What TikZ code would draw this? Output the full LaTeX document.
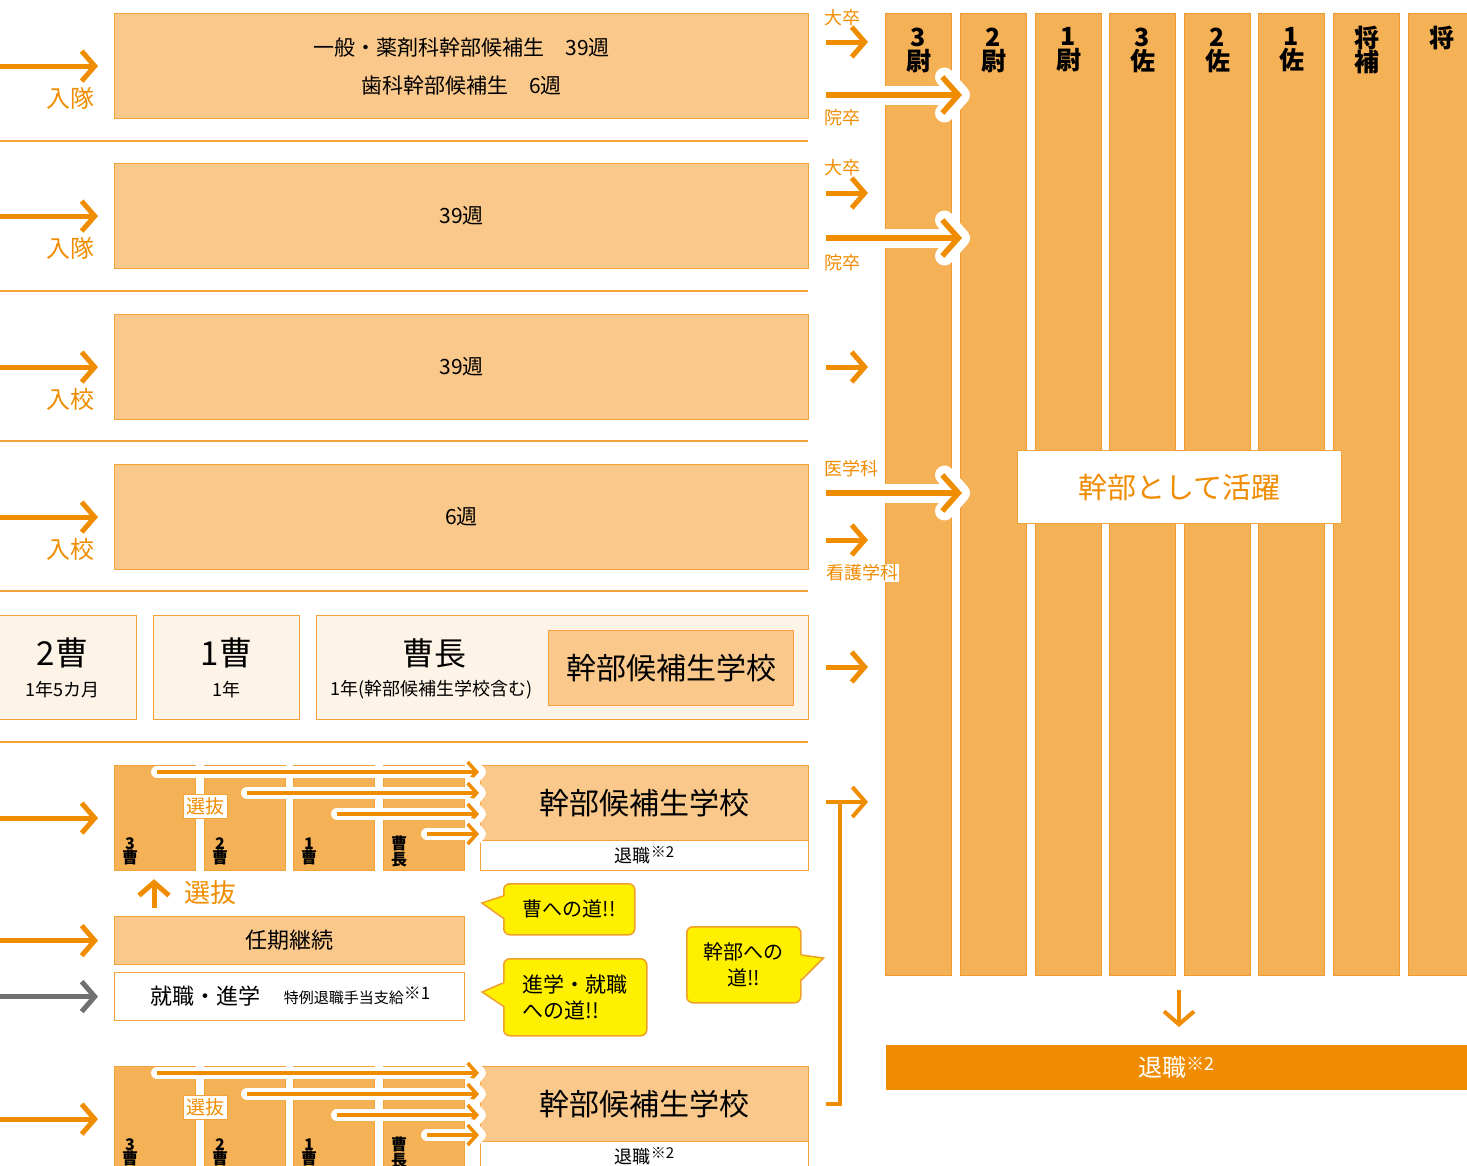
\documentclass[tikz,border=0pt]{standalone}
\usepackage{fontspec}
\setmainfont{Noto Sans CJK JP}
\usetikzlibrary{arrows.meta,calc,positioning}

\definecolor{ao}{RGB}{240,140,0}
\definecolor{bord}{RGB}{244,163,58}
\definecolor{cbord}{RGB}{240,155,50}
\definecolor{lbox}{RGB}{249,200,138}
\definecolor{mbox}{RGB}{245,177,86}
\definecolor{crm}{RGB}{253,243,230}
\definecolor{yel}{RGB}{255,240,0}
\definecolor{bbord}{RGB}{240,160,40}
\definecolor{gry}{RGB}{112,112,112}

\newcommand{\sz}[2]{\fontsize{#1pt}{#2pt}\selectfont}

\tikzset{
  box/.style={draw=bord, line width=1.2pt, anchor=north west, inner sep=0pt, align=center},
  pale/.style={box, fill=lbox},
  cream/.style={box, fill=crm},
  rankbox/.style={box, fill=mbox, minimum width=81pt, minimum height=105pt},
  ranklab/.style={align=center, font=\sz{16}{14}\bfseries},
  col/.style={box, fill=mbox, draw=cbord, line width=1pt, minimum width=66pt, minimum height=962pt},
  coltxt/.style={align=center, font=\sz{25}{24}\bfseries},
  lab/.style={text=ao, font=\sz{24}{26}},
  small/.style={text=ao, font=\sz{18}{20}},
  sep/.style={draw=bord, line width=2pt},
  arr/.style={draw=ao, line width=5pt, -{Straight Barb[length=13pt,width=30pt]}},
  bigarr/.style={draw=ao, line width=5.5pt, -{Straight Barb[length=16pt,width=36pt]}},
  halo/.style={draw=white, line width=19pt, line cap=round, -{Straight Barb[length=16pt,width=36pt,round]}},
  thin/.style={draw=ao, line width=3.5pt, -{Straight Barb[length=9pt,width=20pt]}},
  thinhalo/.style={draw=white, line width=12pt, line cap=round, -{Straight Barb[length=9pt,width=20pt,round]}},
  bubble/.style={draw=bbord, fill=yel, line width=1.5pt, rounded corners=6pt, anchor=north west, inner sep=0pt},
  tail/.style={draw=bbord, line width=1.5pt, line join=miter}
}

\begin{document}
\begin{tikzpicture}[x=1pt,y=-1pt]
  \useasboundingbox (0,0) rectangle (1467,1165);
  \clip (0,0) rectangle (1467,1165);
  \coordinate (O) at (0,0);

  % separators
  \foreach \y in {141,291,441,591,742}
    \draw[sep] (0,\y) -- (808,\y);

  % courses
  \node[pale, minimum width=694pt, minimum height=105pt, font=\sz{21}{38}] (r1) at (114,13)
    {一般・薬剤科幹部候補生　39週\\歯科幹部候補生　6週};
  \node[lab, anchor=east] (l1) at ($(r1.west)+(-16,32)$) {入隊};
  \draw[arr] (r1.west -| O) -- ([xshift=-16pt]r1.west);
  \foreach \i/\y/\t/\l in {2/163/39週/入隊,3/314/39週/入校,4/464/6週/入校} {
    \node[pale, minimum width=694pt, minimum height=105pt, font=\sz{21}{24}] (r\i) at (114,\y) {\t};
    \node[lab, anchor=east] (l\i) at ($(r\i.west)+(-16,32)$) {\l};
    \draw[arr] (r\i.west -| O) -- ([xshift=-16pt]r\i.west);
  }

  % 曹 course
  \node[cream, minimum width=148pt, minimum height=104pt] (p1) at (-12,615) {};
  \node[font=\sz{33}{34}] (p1a) at ($(p1.north)+(0,38)$) {2曹};
  \node[font=\sz{18}{20}] (p1b) at ($(p1.north)+(0,75)$) {1年5カ月};
  \node[cream, minimum width=146pt, minimum height=104pt] (p2) at (153,615) {};
  \node[font=\sz{33}{34}] (p2a) at ($(p2.north)+(0,38)$) {1曹};
  \node[font=\sz{18}{20}] (p2b) at ($(p2.north)+(0,75)$) {1年};
  \node[cream, minimum width=492pt, minimum height=104pt] (p3) at (316,615) {};
  \node[font=\sz{32}{34}] (p3a) at ($(p3.north west)+(118,38)$) {曹長};
  \node[font=\sz{18}{20}] (p3b) at ($(p3.north west)+(116,75)$) {1年(幹部候補生学校含む)};
  \node[pale, minimum width=245pt, minimum height=75pt, font=\sz{30}{32}] (p4) at (548,630) {幹部候補生学校};

  % 任期制 rows
  \foreach \d/\k in {0/a,301/b} {
    \foreach \x/\t [count=\j] in {114/{3\\曹},204/{2\\曹},293/{1\\曹},383/{曹\\長}} {
      \node[rankbox] (\k\j) at (\x,765+\d) {};
      \node[ranklab] (\k\j t) at ($(\k\j.south west)+(16,-20)$) {\t};
    }
    \node[pale, minimum width=328pt, minimum height=75pt, font=\sz{30}{32}] (k\k) at (480,765+\d) {幹部候補生学校};
    \node[box, fill=white, minimum width=328pt, minimum height=30pt, font=\sz{18}{20}] (t\k) at (480,840+\d)
      {退職\raisebox{5pt}{\sz{15}{15}※2}};
    \foreach \x/\y [count=\j] in {157/772,247/793,337/814,427/834} {
      \coordinate (h\k\j) at (\x,\y+\d);
      \draw[thinhalo] (h\k\j) -- ([xshift=6pt]h\k\j -| k\k.west);
      \draw[thin] (h\k\j) -- ([xshift=-1pt]h\k\j -| k\k.west);
    }
    \node[box, anchor=center, fill=white, text=ao, inner sep=3pt, font=\sz{19}{20}] (sel\k) at (205.5,806.5+\d) {選抜};
    \draw[arr] (\k1.west -| O) -- ([xshift=-16pt]\k1.west);
  }

  \coordinate (up) at (154,908);
  \draw[arr] (up) -- (up |- a1.south) [shorten >=8pt];
  \node[lab, font=\sz{26}{28}] (selup) at (210,893) {選抜};

  \node[pale, minimum width=350pt, minimum height=48pt, font=\sz{22}{24}] (n1) at (114,916) {任期継続};
  \node[box, fill=white, minimum width=350pt, minimum height=48pt] (n2) at (114,972) {};
  \node[font=\sz{22}{24}] (n2a) at (205,996) {就職・進学};
  \node[font=\sz{15}{16}] (n2b) at (357,996) {特例退職手当支給\raisebox{4pt}{\sz{17}{17}※1}};
  \draw[arr] (n1.west -| O) -- ([xshift=-16pt]n1.west);
  \draw[arr, draw=gry] (n2.west -| O) -- ([xshift=-16pt]n2.west);

  % bubbles
  \node[bubble, minimum width=131pt, minimum height=51pt, font=\sz{20}{26}] (b1) at (503,883) {曹への道!!};
  \fill[yel] ($(b1.north west)+(2,13)$) -- ($(b1.north west)+(-21,20)$) -- ($(b1.north west)+(2,35)$) -- cycle;
  \draw[tail] ($(b1.north west)+(0,13)$) -- ($(b1.north west)+(-21,20)$) -- ($(b1.north west)+(0,35)$);
  \node[bubble, minimum width=143pt, minimum height=77pt, align=left, font=\sz{21}{26}] (b2) at (503,958) {進学・就職\\への道!!};
  \fill[yel] ($(b2.north west)+(2,25)$) -- ($(b2.north west)+(-21,34)$) -- ($(b2.north west)+(2,48)$) -- cycle;
  \draw[tail] ($(b2.north west)+(0,25)$) -- ($(b2.north west)+(-21,34)$) -- ($(b2.north west)+(0,48)$);
  \node[bubble, minimum width=114pt, minimum height=76pt, align=center, font=\sz{20}{26}] (b3) at (686,926) {幹部への\\道!!};
  \fill[yel] ($(b3.north east)+(-2,29)$) -- ($(b3.north east)+(22,32)$) -- ($(b3.north east)+(-2,54)$) -- cycle;
  \draw[tail] ($(b3.north east)+(0,29)$) -- ($(b3.north east)+(22,32)$) -- ($(b3.north east)+(0,54)$);

  % ranks
  \foreach \x/\t [count=\i] in {885/{3\\尉},960/{2\\尉},1035/{1\\尉},1109/{3\\佐},1184/{2\\佐},1258/{1\\佐},1333/{将\\補}} {
    \node[col] (c\i) at (\x,13) {};
    \node[coltxt] (ct\i) at ($(c\i.north)+(0,37)$) {\t};
  }
  \node[col] (c8) at (1408,13) {};
  \node[coltxt] (ct8) at ($(c8.north)+(0,25)$) {将};

  \node[box, fill=white, text=ao, minimum width=324pt, minimum height=73pt, font=\sz{29}{30}] (act) at (1017,450) {幹部として活躍};

  % entries
  \foreach \y in {42,193,367,540,667} {
    \coordinate (s\y) at (826,\y);
    \draw[arr] (s\y) -- (s\y -| c1.west) [shorten >=17pt];
  }
  \foreach \y in {95,238,493} {
    \coordinate (g\y) at (826,\y);
    \draw[halo] (g\y) -- ([xshift=10pt]g\y -| c2.west);
    \draw[bigarr] (g\y) -- ([xshift=2pt]g\y -| c2.west);
  }
  \node[small] (u1) at (842,18) {大卒};
  \node[small] (u2) at (842,118) {院卒};
  \node[small] (u3) at (842,168) {大卒};
  \node[small] (u4) at (842,263) {院卒};
  \node[small] (u5) at (851,469) {医学科};
  \node[small, fill=white, inner sep=1pt] (u6) at (862,573) {看護学科};

  \coordinate (bk1) at (826,802);
  \coordinate (bk2) at (826,1104);
  \coordinate (bkv) at (840,802);
  \draw[arr, line width=4pt] (bk1) -- (bk1 -| c1.west) [shorten >=17pt];
  \draw[draw=ao, line width=4pt] (bk2) -| (bkv);

  % retire
  \node[box, draw=none, fill=ao, text=white, minimum width=582pt, minimum height=45pt, font=\sz{24}{26}] (rt) at (885,1044)
    {退職\raisebox{6pt}{\sz{18}{18}※2}};
  \coordinate (dn) at (1179,990);
  \draw[arr, line width=4pt] (dn) -- (dn |- rt.north) [shorten >=17pt];
\end{tikzpicture}
\end{document}
